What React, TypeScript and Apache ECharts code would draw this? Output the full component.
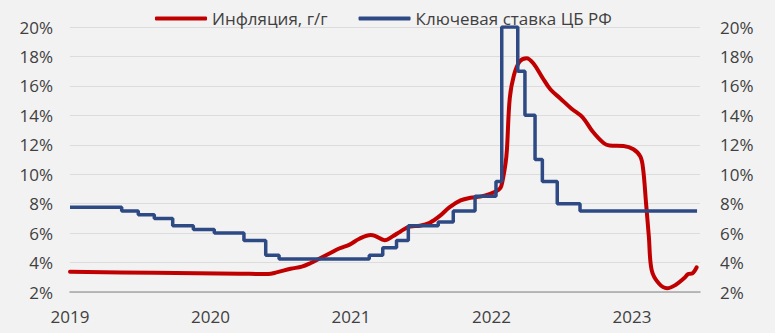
import React, { useEffect, useRef } from "react";
import * as echarts from "echarts";

const xTickLabels = ["2019", "2020", "2021", "2022", "2023"];
const yTickValues = [2, 4, 6, 8, 10, 12, 14, 16, 18, 20];

const seriesNames = ["Инфляция, г/г", "Ключевая ставка ЦБ РФ"];

// Inflation, y/y (%), time as fractional year
const inflationT = [
  2019.0, 2019.6, 2020.21, 2020.41, 2020.47, 2020.57, 2020.65, 2020.71, 2020.78, 2020.85,
  2020.92, 2020.99, 2021.06, 2021.14, 2021.17, 2021.24, 2021.3, 2021.35, 2021.42, 2021.49,
  2021.56, 2021.63, 2021.7, 2021.78, 2021.85, 2021.92, 2021.99, 2022.05, 2022.07, 2022.1,
  2022.11, 2022.13, 2022.16, 2022.2, 2022.25, 2022.3, 2022.36, 2022.42, 2022.49, 2022.57,
  2022.65, 2022.72, 2022.8, 2022.84, 2022.94, 2023.01, 2023.06, 2023.08, 2023.1, 2023.12,
  2023.14, 2023.19, 2023.25, 2023.31, 2023.37, 2023.4, 2023.43, 2023.46,
];
const inflationV = [
  3.38, 3.3, 3.24, 3.22, 3.33, 3.58, 3.72, 3.95, 4.29, 4.63,
  4.97, 5.22, 5.62, 5.87, 5.82, 5.52, 5.8, 6.1, 6.45, 6.5,
  6.7, 7.15, 7.75, 8.22, 8.4, 8.48, 8.66, 8.93, 9.2, 10.74,
  11.7, 15.16, 16.74, 17.65, 17.88, 17.5, 16.6, 15.75, 15.15, 14.45,
  13.85, 12.9, 12.1, 11.95, 11.92, 11.7, 11.19, 10.29, 8.03, 5.76,
  3.49, 2.59, 2.25, 2.48, 2.93, 3.22, 3.27, 3.68,
];

// Key rate (%), change points
const rateT = [
  2019.0, 2019.368, 2019.486, 2019.6, 2019.731, 2019.878, 2020.027, 2020.238, 2020.393, 2020.488,
  2021.13, 2021.226, 2021.324, 2021.408, 2021.621, 2021.728, 2021.883, 2022.032, 2022.073, 2022.187,
  2022.238, 2022.31, 2022.362, 2022.468, 2022.63, 2023.463,
];
const rateV = [
  7.75, 7.5, 7.25, 7.0, 6.5, 6.25, 6.0, 5.5, 4.5, 4.25,
  4.5, 5.0, 5.5, 6.5, 6.75, 7.5, 8.5, 9.5, 20, 17,
  14, 11, 9.5, 8, 7.5, 7.5,
];

const FONT = "'Open Sans', sans-serif";
const TEXT = "#404040";

export default function App() {
  const ref = useRef<HTMLDivElement>(null);
  useEffect(() => {
    if (!ref.current) return;
    const chart = echarts.init(ref.current, undefined, { renderer: "svg" });
    const xMin = Number(xTickLabels[0]);
    const yAxisCommon = {
      type: "value",
      min: yTickValues[0],
      max: yTickValues[yTickValues.length - 1],
      interval: 2,
      axisLine: { show: false },
      axisTick: { show: false },
      axisLabel: {
        formatter: "{value}%",
        color: TEXT,
        fontFamily: FONT,
        fontSize: 17,
      },
    };
    chart.setOption({
      animation: false,
      backgroundColor: "#F2F2F2",
      textStyle: { fontFamily: FONT },
      grid: { left: 70, right: 75, top: 27, bottom: 41, containLabel: false },
      legend: {
        left: 150,
        top: 5,
        itemWidth: 52,
        itemHeight: 4,
        itemGap: 31,
        icon: "roundRect",
        textStyle: { color: TEXT, fontFamily: FONT, fontSize: 17 },
        data: seriesNames,
      },
      xAxis: {
        type: "value",
        min: xMin,
        max: 2023.484,
        interval: 1,
        axisLine: { show: true, lineStyle: { color: "#A6A6A6", width: 1.5 } },
        axisTick: { show: false },
        splitLine: { show: false },
        axisLabel: {
          showMaxLabel: false,
          margin: 16,
          color: TEXT,
          fontFamily: FONT,
          fontSize: 17,
          formatter: (v: number) => {
            const i = Math.round(v - xMin);
            return xTickLabels[i] ?? "";
          },
        },
      },
      yAxis: [
        {
          ...yAxisCommon,
          position: "left",
          axisLabel: { ...yAxisCommon.axisLabel, margin: 17 },
          splitLine: { show: true, lineStyle: { color: "#DCDCDC", width: 1 } },
        },
        {
          ...yAxisCommon,
          position: "right",
          axisLabel: { ...yAxisCommon.axisLabel, margin: 20 },
          splitLine: { show: false },
        },
      ],
      series: [
        {
          name: seriesNames[0],
          type: "line",
          yAxisIndex: 0,
          data: inflationT.map((t, i) => [t, inflationV[i]]),
          smooth: 0.35,
          symbol: "none",
          color: "#C00000",
          lineStyle: { color: "#C00000", width: 4, join: "round", cap: "round" },
          z: 2,
        },
        {
          name: seriesNames[1],
          type: "line",
          yAxisIndex: 0,
          data: rateT.map((t, i) => [t, rateV[i]]),
          step: "end",
          symbol: "none",
          color: "#2E4A84",
          lineStyle: { color: "#2E4A84", width: 3.5 },
          z: 3,
        },
      ],
    });
    return () => chart.dispose();
  }, []);
  return (
    <div
      ref={ref}
      style={{ position: "absolute", left: 0, top: 0, width: 775, height: 333 }}
    />
  );
}
